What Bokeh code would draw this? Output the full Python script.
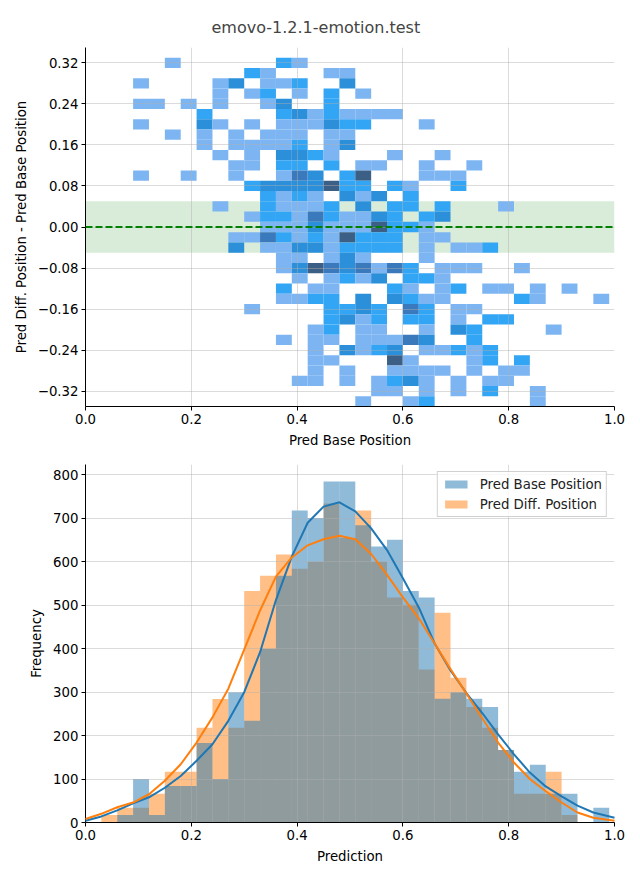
from bokeh.plotting import figure
from bokeh.layouts import column
from bokeh.models import (FixedTicker, BoxAnnotation, Span, Legend, LegendItem,
                          Range1d, ColumnDataSource)
from bokeh.embed import file_html
from bokeh.resources import INLINE

# ---------------- data ----------------
title_text = "emovo-1.2.1-emotion.test"

# shared bins of the prediction axis (Pred Base Position / Prediction)
bin_edges = [0.00, 0.03, 0.06, 0.09, 0.12, 0.15, 0.18, 0.21, 0.24, 0.27, 0.30,
             0.33, 0.36, 0.39, 0.42, 0.45, 0.48, 0.51, 0.54, 0.57, 0.60, 0.63,
             0.66, 0.69, 0.72, 0.75, 0.78, 0.81, 0.84, 0.87, 0.90, 0.93, 0.96, 0.99]

# bins of the difference axis, top to bottom
diff_edges = [0.35, 0.33, 0.31, 0.29, 0.27, 0.25, 0.23, 0.21, 0.19, 0.17, 0.15,
              0.13, 0.11, 0.09, 0.07, 0.05, 0.03, 0.01, -0.01, -0.03, -0.05,
              -0.07, -0.09, -0.11, -0.13, -0.15, -0.17, -0.19, -0.21, -0.23,
              -0.25, -0.27, -0.29, -0.31, -0.33, -0.35]

# 2D histogram counts, one dict per difference bin (top first): {base-bin index: count}
heat_rows = [
    {},
    {5: 1, 12: 2, 13: 1},
    {10: 2, 11: 1, 15: 1, 16: 1},
    {3: 1, 8: 1, 9: 3, 11: 1, 12: 1, 13: 2, 16: 3},
    {8: 1, 10: 1, 11: 2, 13: 1, 15: 2, 17: 1},
    {3: 1, 4: 1, 6: 1, 8: 1, 11: 1, 12: 3, 15: 2},
    {7: 2, 12: 2, 13: 3, 14: 1, 15: 2, 16: 1, 17: 1, 18: 1, 19: 1},
    {3: 1, 7: 3, 8: 1, 10: 1, 12: 1, 13: 1, 14: 1, 15: 3, 16: 2, 17: 2, 21: 1},
    {5: 1, 7: 1, 9: 1, 11: 1, 12: 1, 13: 1, 15: 1, 16: 1},
    {7: 1, 9: 1, 10: 1, 11: 1, 12: 1, 13: 2, 15: 1, 16: 3},
    {8: 1, 10: 1, 12: 3, 13: 3, 14: 2, 15: 1, 19: 1, 22: 1},
    {9: 1, 10: 1, 12: 2, 13: 2, 15: 2, 17: 1, 18: 1, 21: 1, 24: 1},
    {3: 1, 6: 1, 9: 1, 12: 1, 13: 4, 14: 3, 16: 2, 17: 5, 21: 1, 22: 1, 23: 1},
    {10: 2, 11: 3, 12: 3, 13: 3, 14: 3, 15: 5, 16: 2, 17: 2, 19: 2, 20: 1, 23: 2},
    {11: 2, 12: 1, 13: 2, 14: 1, 16: 3, 17: 1, 18: 3, 20: 2},
    {8: 1, 11: 2, 12: 1, 13: 1, 14: 1, 15: 2, 17: 3, 19: 2, 20: 2, 22: 2, 26: 1},
    {10: 1, 11: 2, 12: 2, 13: 1, 14: 4, 15: 2, 16: 1, 17: 1, 18: 3, 19: 2, 21: 2, 22: 3},
    {11: 1, 12: 1, 13: 1, 14: 3, 15: 1, 16: 1, 17: 1, 18: 5, 19: 2, 20: 2, 21: 1},
    {9: 1, 10: 1, 11: 4, 12: 2, 13: 1, 14: 2, 15: 1, 16: 5, 17: 2, 18: 2, 19: 2, 21: 1, 22: 1},
    {9: 3, 11: 1, 12: 1, 13: 3, 14: 3, 15: 1, 16: 2, 17: 2, 18: 2, 19: 2, 21: 1, 23: 1, 24: 1, 25: 2},
    {12: 1, 13: 1, 15: 1, 16: 3, 17: 1, 21: 1},
    {12: 1, 13: 3, 14: 5, 15: 4, 16: 3, 17: 4, 18: 1, 19: 4, 20: 2, 22: 1, 23: 1, 24: 1, 27: 1},
    {13: 1, 15: 1, 16: 2, 17: 1, 18: 3, 20: 2, 21: 2, 22: 1},
    {12: 2, 14: 1, 15: 1, 19: 2, 20: 1, 22: 1, 23: 2, 25: 1, 26: 1, 28: 1, 30: 1},
    {12: 1, 13: 1, 14: 2, 15: 2, 17: 3, 19: 3, 20: 2, 21: 1, 22: 1, 27: 2, 28: 1, 32: 1},
    {10: 1, 15: 2, 16: 2, 17: 3, 18: 2, 20: 4, 21: 2, 23: 1, 24: 1},
    {15: 2, 16: 3, 17: 1, 18: 2, 20: 2, 21: 2, 23: 1, 25: 2, 26: 2},
    {14: 1, 15: 2, 17: 1, 18: 1, 21: 1, 23: 3, 24: 2, 29: 1},
    {12: 1, 14: 1, 15: 1, 17: 1, 18: 1, 19: 1, 20: 4, 21: 3, 24: 2},
    {14: 1, 16: 3, 17: 1, 18: 2, 19: 3, 21: 1, 22: 1, 23: 2, 24: 1, 25: 2},
    {14: 1, 15: 1, 19: 5, 20: 1, 24: 1, 25: 2, 27: 2},
    {14: 1, 16: 1, 19: 1, 20: 1, 21: 1, 22: 1, 24: 1, 26: 1, 27: 1},
    {13: 1, 14: 1, 16: 1, 18: 1, 19: 2, 20: 3, 21: 1, 23: 1, 25: 1, 26: 1},
    {18: 1, 19: 1, 21: 1, 23: 1, 25: 2, 28: 1},
    {17: 1, 20: 1, 21: 2, 28: 1},
]

band_limits = [-0.05, 0.05]
zero_line = 0.0

# 1D histograms (frequency per bin)
base_counts = [0, 0, 17, 100, 17, 84, 84, 183, 100, 300, 234, 400, 568, 718, 701,
               785, 785, 684, 635, 651, 533, 518, 285, 300, 285, 266, 167, 117,
               133, 66, 66, 0, 34]
diff_counts = [0, 17, 34, 34, 66, 117, 117, 218, 284, 218, 533, 568, 617, 584, 600,
               734, 655, 718, 600, 518, 501, 352, 483, 333, 266, 218, 167, 66, 66,
               117, 17, 0, 0]

# KDE curves (scaled to counts)
kde_x = [0.00, 0.03, 0.06, 0.09, 0.12, 0.15, 0.18, 0.21, 0.24, 0.27, 0.30, 0.33,
         0.36, 0.39, 0.42, 0.45, 0.48, 0.51, 0.54, 0.57, 0.60, 0.63, 0.66, 0.69,
         0.72, 0.75, 0.78, 0.81, 0.84, 0.87, 0.90, 0.93, 0.96, 1.00]
base_kde = [4, 14, 28, 44, 58, 80, 107, 142, 180, 234, 300, 392, 512, 612, 690, 727,
            737, 716, 677, 627, 562, 495, 412, 350, 298, 252, 203, 157, 115, 83, 60,
            39, 23, 11]
diff_kde = [8, 20, 35, 46, 65, 96, 134, 184, 242, 308, 398, 488, 566, 610, 638, 652,
            660, 652, 618, 570, 518, 470, 412, 353, 297, 240, 184, 138, 100, 72, 46,
            23, 11, 4]

x_ticks = [0.0, 0.2, 0.4, 0.6, 0.8, 1.0]
x_tick_labels = ["0.0", "0.2", "0.4", "0.6", "0.8", "1.0"]
y1_ticks = [-0.32, -0.24, -0.16, -0.08, 0.0, 0.08, 0.16, 0.24, 0.32]
y1_tick_labels = ["\u22120.32", "\u22120.24", "\u22120.16", "\u22120.08", "0.00",
                  "0.08", "0.16", "0.24", "0.32"]
y2_ticks = [0, 100, 200, 300, 400, 500, 600, 700, 800]
y2_tick_labels = ["0", "100", "200", "300", "400", "500", "600", "700", "800"]

# ---------------- style ----------------
FONT = "DejaVu Sans"
heat_palette = ["#7db5f2", "#33a5f5", "#2b8fd9", "#3a79bb", "#3c5f85"]
C0 = "#1f77b4"
C1 = "#ff7f0e"


def style_axes(p, xlabel, ylabel, xt, xl, yt, yl):
    p.outline_line_color = None
    p.background_fill_color = "white"
    p.border_fill_color = "white"
    for ax, lab, t, l in ((p.xaxis[0], xlabel, xt, xl), (p.yaxis[0], ylabel, yt, yl)):
        ax.ticker = FixedTicker(ticks=t)
        ax.major_label_overrides = dict(zip(t, l))
        ax.axis_label = lab
        ax.axis_label_text_font = FONT
        ax.axis_label_text_font_size = "13.3px"
        ax.axis_label_text_font_style = "normal"
        ax.axis_label_text_color = "black"
        ax.axis_label_standoff = 6
        ax.major_label_text_font = FONT
        ax.major_label_text_font_size = "13.3px"
        ax.major_label_text_color = "black"
        ax.major_label_standoff = 3
        ax.axis_line_color = "black"
        ax.axis_line_width = 1
        ax.major_tick_line_color = "black"
        ax.major_tick_line_width = 1
        ax.major_tick_out = 4
        ax.major_tick_in = 0
        ax.minor_tick_line_color = None
    for g in (p.xgrid[0], p.ygrid[0]):
        g.grid_line_color = "#b0b0b0"
        g.grid_line_alpha = 0.45
        g.grid_line_width = 1
        g.level = "glyph"


# ---------------- top: 2D histogram ----------------
p1 = figure(width=640, height=450, x_range=Range1d(0, 1), y_range=Range1d(-0.35, 0.35),
            output_backend="svg", toolbar_location=None,
            min_border_left=85, min_border_right=26, min_border_top=47, min_border_bottom=44)
p1.title.text = title_text
p1.title.text_font = FONT
p1.title.text_font_size = "16px"
p1.title.text_font_style = "normal"
p1.title.align = "left"
p1.title.offset = 126
p1.title.standoff = 22

band = BoxAnnotation(bottom=band_limits[0], top=band_limits[1], fill_color="green",
                     fill_alpha=0.15, line_color=None, level="image")
p1.add_layout(band)

lefts, rights, bottoms, tops, colors = [], [], [], [], []
for j, row in enumerate(heat_rows):
    for k, n in row.items():
        lefts.append(bin_edges[k])
        rights.append(bin_edges[k + 1])
        tops.append(diff_edges[j])
        bottoms.append(diff_edges[j + 1])
        colors.append(heat_palette[min(n, len(heat_palette)) - 1])
heat_src = ColumnDataSource(dict(left=lefts, right=rights, bottom=bottoms, top=tops, color=colors))
r_heat = p1.quad(left="left", right="right", bottom="bottom", top="top", fill_color="color",
                 line_color=None, source=heat_src)
r_heat.level = "underlay"

p1.add_layout(Span(location=zero_line, dimension="width", line_color="green",
                   line_dash="7 3", line_width=2, level="annotation"))

style_axes(p1, "Pred Base Position", "Pred Diff. Position - Pred Base Position",
           x_ticks, x_tick_labels, y1_ticks, y1_tick_labels)

# ---------------- bottom: histograms + KDE ----------------
p2 = figure(width=640, height=430, x_range=Range1d(0, 1), y_range=Range1d(0, 824),
            output_backend="svg", toolbar_location=None,
            min_border_left=85, min_border_right=26, min_border_top=14, min_border_bottom=58)

hist_src = ColumnDataSource(dict(left=bin_edges[:-1], right=bin_edges[1:],
                                 base=base_counts, diff=diff_counts))
r_diff = p2.quad(left="left", right="right", bottom=0, top="diff", source=hist_src,
                 fill_color=C1, fill_alpha=0.5, line_color=None)
r_base = p2.quad(left="left", right="right", bottom=0, top="base", source=hist_src,
                 fill_color=C0, fill_alpha=0.5, line_color=None)
r_diff.level = "underlay"
r_base.level = "underlay"

l_base = p2.line(kde_x, base_kde, line_color=C0, line_width=2)
l_diff = p2.line(kde_x, diff_kde, line_color=C1, line_width=2)
l_base.level = "annotation"
l_diff.level = "annotation"

style_axes(p2, "Prediction", "Frequency", x_ticks, x_tick_labels, y2_ticks, y2_tick_labels)

legend = Legend(items=[LegendItem(label="Pred Base Position", renderers=[r_base]),
                       LegendItem(label="Pred Diff. Position", renderers=[r_diff])],
                location="top_right")
legend.level = "overlay"
legend.label_text_font = FONT
legend.label_text_font_size = "13.3px"
legend.label_text_color = "#222222"
legend.glyph_width = 28
legend.glyph_height = 10
legend.label_height = 16
legend.label_standoff = 10
legend.spacing = 4
legend.padding = 4
legend.margin = 7
legend.border_line_color = "#cccccc"
legend.border_line_alpha = 0.9
legend.background_fill_alpha = 0.8
p2.add_layout(legend)

layout = column(p1, p2)
open("out.html", "w").write(file_html(layout, INLINE))
